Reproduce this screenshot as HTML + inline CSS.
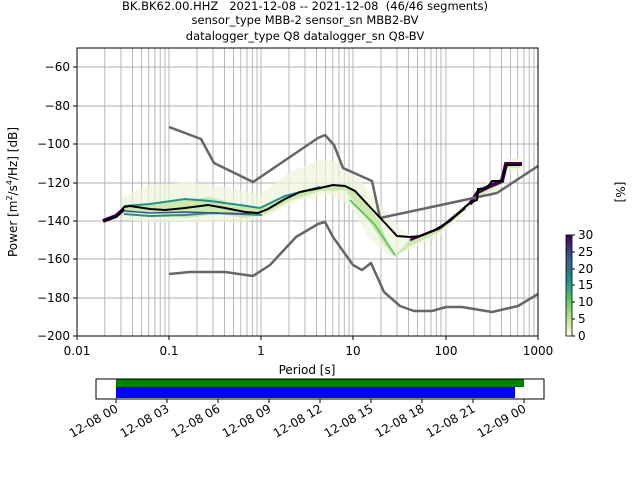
<!DOCTYPE html>
<html><head><style>body{margin:0;background:#fff}svg{font-family:"DejaVu Sans","Liberation Sans",sans-serif}</style></head><body>
<svg width="640" height="480" xmlns="http://www.w3.org/2000/svg">
<g font-size="11.5" text-anchor="middle" fill="#000" style="white-space:pre">
<text x="305" y="10" xml:space="preserve">BK.BK62.00.HHZ   2021-12-08 -- 2021-12-08  (46/46 segments)</text>
<text x="305" y="24">sensor_type MBB-2 sensor_sn MBB2-BV</text>
<text x="305" y="40">datalogger_type Q8 datalogger_sn Q8-BV</text>
</g>
<g stroke="#b0b0b0" stroke-width="0.9">
<line x1="77" x2="538" y1="67" y2="67"/><line x1="77" x2="538" y1="106" y2="106"/><line x1="77" x2="538" y1="144" y2="144"/><line x1="77" x2="538" y1="183" y2="183"/><line x1="77" x2="538" y1="221" y2="221"/><line x1="77" x2="538" y1="259" y2="259"/><line x1="77" x2="538" y1="298" y2="298"/>
<path d="M104.8 48V336M121 48V336M132.5 48V336M141.4 48V336M148.7 48V336M154.9 48V336M160.2 48V336M165 48V336M169 48V336M197 48V336M213 48V336M224.5 48V336M233.5 48V336M240.8 48V336M247 48V336M252.3 48V336M257 48V336M261 48V336M289 48V336M305 48V336M316.5 48V336M325.5 48V336M332.8 48V336M339 48V336M344.3 48V336M349 48V336M353 48V336M381 48V336M397 48V336M408.5 48V336M417.5 48V336M424.8 48V336M431 48V336M436.3 48V336M441 48V336M446 48V336M473.8 48V336M490 48V336M501.5 48V336M510.4 48V336M517.7 48V336M523.9 48V336M529.2 48V336M534 48V336M77 48V336"/>
</g>
<path d="M122 197L150 185L190 182L230 188L260 195L290 172L320 160L340 162L360 180L380 205L400 228L420 240L440 228L470 205L478 188L500 175L508 158L522 158L522 172L508 172L500 190L478 198L465 214L440 235L410 250L390 256L370 240L350 205L330 195L300 200L270 215L245 222L220 222L190 222L150 222L122 220Z" fill="#eef4dc" opacity="0.7"/>
<path d="M124 207L150 204L185 200L210 197L240 206L260 208L285 196L320 186L345 184L360 196L380 222L390 250L395 255L410 240L440 226L465 205L478 195L490 187L502 178L506 162L520 162L520 168L506 168L502 184L490 190L478 198L465 210L440 232L410 246L395 257L385 246L365 215L345 190L320 191L290 201L265 214L245 218L220 214L185 218L150 212L124 213Z" fill="#b5df8a" opacity="0.6"/>
<g fill="none" stroke-width="2">
<path d="M124 206L150 204L185 199L210 201L240 205L260 208L285 196L320 187" stroke="#21918c"/>
<path d="M124 214L150 216L185 215L210 213L240 214L262 215" stroke="#21918c"/>
<path d="M125 211L150 213L185 212L250 214" stroke="#3b528b" stroke-width="1.5"/>
<path d="M103 221L116 216L124 209M470 204L478 192L490 186L502 181L506 164L522 164" stroke="#440154" stroke-width="4"/>
<path d="M410 240L440 228L465 208" stroke="#440154" stroke-width="2.5"/>
<path d="M350 200L375 225L395 255" stroke="#5ec962" stroke-width="2"/>
</g>
<g fill="none" stroke="#666" stroke-width="2.5" stroke-linejoin="round">
<polyline points="169,127 201,139 214,163 253,182 318,138 325,135 334,145 343,168 372,181 380,218"/>
<polyline points="380,218 497,193 538,166"/>
<polyline points="169,274 190,272 225,272 253,276 270,265 296,237 318,224 325,222 333,237 353,265 362,270 371,263 384,292 400,306 414,311 432,311 446,307 462,307 492,312 518,306 538,294"/>
</g>
<polyline fill="none" stroke="#000" stroke-width="2" points="103,221 108,219 116,217 119,214 124,207 130,206 150,209 165,210 185,208 208,205 225,208 245,212 258,213 268,209 285,199 300,192 320,188 333,185 345,186 355,191 370,207 385,223 397,236 410,237 420,236 435,230 450,221 465,207 470,203 477,200 478,189 487,188 492,181 502,181 506,165 520,165"/>
<rect x="77" y="48" width="461" height="288" fill="none" stroke="#000" stroke-width="1"/>
<g stroke="#000"><path d="M73 67H77M73 106H77M73 144H77M73 183H77M73 221H77M73 259H77M73 298H77M73 336H77M77 336V340M169 336V340M261 336V340M353 336V340M446 336V340M538 336V340"/></g>
<g font-size="12" fill="#000" text-anchor="end">
<text x="70" y="71">−60</text><text x="70" y="110">−80</text><text x="70" y="148">−100</text><text x="70" y="187">−120</text><text x="70" y="225">−140</text><text x="70" y="263">−160</text><text x="70" y="302">−180</text><text x="70" y="340">−200</text>
</g>
<g font-size="12" fill="#000" text-anchor="middle">
<text x="77" y="355">0.01</text><text x="169" y="355">0.1</text><text x="261" y="355">1</text><text x="353" y="355">10</text><text x="446" y="355">100</text><text x="538" y="355">1000</text>
<text x="307" y="374">Period [s]</text>
</g>
<text transform="translate(17,192) rotate(-90)" font-size="12" text-anchor="middle">Power [m<tspan font-size="8" dy="-5">2</tspan><tspan dy="5">/s</tspan><tspan font-size="8" dy="-5">4</tspan><tspan dy="5">/Hz] [dB]</tspan></text>
<defs><linearGradient id="cb" x1="0" y1="1" x2="0" y2="0"><stop offset="0" stop-color="#ffffe0"/><stop offset="0.15" stop-color="#c2e699"/><stop offset="0.35" stop-color="#5ec962"/><stop offset="0.55" stop-color="#21918c"/><stop offset="0.8" stop-color="#3b528b"/><stop offset="1" stop-color="#440154"/></linearGradient></defs>
<rect x="566" y="235" width="6" height="101" fill="url(#cb)" stroke="#000" stroke-width="0.8"/>
<g stroke="#000"><path d="M572 336H575M572 319H575M572 302H575M572 285H575M572 269H575M572 252H575M572 235H575"/></g>
<g font-size="12" fill="#000"><text x="578" y="340">0</text><text x="578" y="323">5</text><text x="578" y="306">10</text><text x="578" y="289">15</text><text x="578" y="273">20</text><text x="578" y="256">25</text><text x="578" y="239">30</text></g>
<text transform="translate(616,192) rotate(90)" font-size="12" text-anchor="middle">[%]</text>
<rect x="116" y="379" width="408" height="8" fill="#008000"/>
<rect x="116" y="387" width="399" height="11" fill="#0000ff"/>
<rect x="96" y="379" width="448" height="20" fill="none" stroke="#000"/>
<g stroke="#000"><path d="M116 399V403M167 399V403M218 399V403M269 399V403M320 399V403M371 399V403M422 399V403M473 399V403M524 399V403"/></g>
<g font-size="12" fill="#000" text-anchor="end">
<text transform="translate(119,411) rotate(-30)">12-08 00</text>
<text transform="translate(170,411) rotate(-30)">12-08 03</text>
<text transform="translate(221,411) rotate(-30)">12-08 06</text>
<text transform="translate(272,411) rotate(-30)">12-08 09</text>
<text transform="translate(323,411) rotate(-30)">12-08 12</text>
<text transform="translate(374,411) rotate(-30)">12-08 15</text>
<text transform="translate(425,411) rotate(-30)">12-08 18</text>
<text transform="translate(476,411) rotate(-30)">12-08 21</text>
<text transform="translate(527,411) rotate(-30)">12-09 00</text>
</g>
</svg>
</body></html>
